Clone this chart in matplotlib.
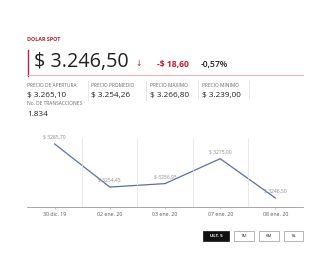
import matplotlib
matplotlib.use("Agg")
import matplotlib.pyplot as plt
from matplotlib.patches import Rectangle
from matplotlib.lines import Line2D

# ---- data ----
title = "DOLAR SPOT"
price = "$ 3.246,50"
change = "-$ 18,60"
change_pct = "-0,57%"
stat_labels = ["PRECIO DE APERTURA", "PRECIO PROMEDIO", "PRECIO MÁXIMO", "PRECIO MÍNIMO"]
stat_values = ["$ 3.265,10", "$ 3.254,26", "$ 3.266,80", "$ 3.239,00"]
tx_label = "No. DE TRANSACCIONES"
tx_value = "1.834"
dates = ["30 dic. 19", "02 ene. 20", "03 ene. 20", "07 ene. 20", "08 ene. 20"]
values = [3285.70, 3254.45, 3256.95, 3275.00, 3246.50]
point_labels = ["$ 3285,70", "$ 3254,45", "$ 3256,95", "$ 3275,00", "$ 3246,50"]
buttons = ["ULT. 5", "1M", "6M", "1A"]

W, H = 336, 280
plt.rcParams['font.family'] = ['Open Sans', 'DejaVu Sans']
fig = plt.figure(figsize=(W / 100, H / 100), dpi=100)
fig.patch.set_facecolor("white")

def fx(x):
    return x / W

def fy(y):
    return 1 - y / H

RED = "#c41e3a"
DARK = "#222222"
GRAY = "#666666"

fig.text(fx(27), fy(40), title, color="#b3202e", fontsize=3.9, fontweight="bold", va="center")
# red bar and underline
fig.add_artist(Line2D([fx(27.5), fx(27.5)], [fy(50), fy(76)], color=RED, lw=1.0, transform=fig.transFigure))
fig.add_artist(Line2D([fx(27), fx(303)], [fy(75.5), fy(75.5)], color="#e8b4bc", lw=0.8, transform=fig.transFigure))
fig.text(fx(34), fy(62.5), price, color=DARK, fontsize=14.2, va="center")
fig.text(fx(135), fy(64), "↓", color=RED, fontsize=5.5, va="center", family=['DejaVu Sans'])
fig.text(fx(157), fy(64), change, color=RED, fontsize=6.2, fontweight="bold", va="center")
fig.text(fx(201), fy(64), change_pct, color=DARK, fontsize=6.2, fontweight="semibold", va="center")

# stats
xs = [27, 91, 150, 202]
for x, lab, val in zip(xs, stat_labels, stat_values):
    fig.text(fx(x), fy(85.5), lab, color=GRAY, fontsize=3.5, va="center")
    fig.text(fx(x), fy(96), val, color=DARK, fontsize=5.9, va="center")
for sx in [88, 146, 198, 249]:
    fig.add_artist(Line2D([fx(sx), fx(sx)], [fy(81), fy(100)], color="#dddddd", lw=0.5, transform=fig.transFigure))
fig.text(fx(27), fy(103.5), tx_label, color=GRAY, fontsize=3.5, va="center")
fig.text(fx(27), fy(114), tx_value, color=DARK, fontsize=5.9, va="center")

# chart
left, right, top, bottom = 27, 303, 138, 207
ax = fig.add_axes([fx(left), fy(bottom), fx(right - left), (bottom - top) / H])
xpos = list(range(len(dates)))
ax.plot(xpos, values, color="#5b6fa6", lw=0.9)
for x, v, lab in zip(xpos, values, point_labels):
    ax.annotate(lab, (x, v), xytext=(0, 3), textcoords="offset points", ha="center",
                va="bottom", fontsize=3.6, color="#888888")
ax.set_xlim(-0.5, len(dates) - 0.5)
ax.set_ylim(3240, 3290)
ax.set_xticks(xpos)
ax.set_xticklabels(dates, fontsize=3.8, color="#555555")
ax.tick_params(axis="x", length=1.5, width=0.4, color="#999999", pad=2)
ax.set_yticks([])
for gx in [0.5, 1.5, 2.5, 3.5]:
    ax.axvline(gx, color="#e2e2e2", lw=0.5)
for s in ["top", "right", "left"]:
    ax.spines[s].set_visible(False)
ax.spines["bottom"].set_color("#9a9a9a")
ax.spines["bottom"].set_linewidth(0.6)
ax.set_facecolor("white")

# buttons
bx = [(203, 229), (234, 254), (259, 279), (284, 303)]
for (x0, x1), lab in zip(bx, buttons):
    filled = lab == "ULT. 5"
    fig.add_artist(Rectangle((fx(x0), fy(241)), fx(x1 - x0), 10 / H, transform=fig.transFigure,
                             facecolor="#111111" if filled else "white",
                             edgecolor="#111111" if filled else "#999999", lw=0.5))
    fig.text(fx((x0 + x1) / 2), fy(236), lab, color="white" if filled else "#333333",
             fontsize=3.2, ha="center", va="center", fontweight="bold" if filled else "normal")

fig.savefig("out.png", dpi=100, facecolor="white")
